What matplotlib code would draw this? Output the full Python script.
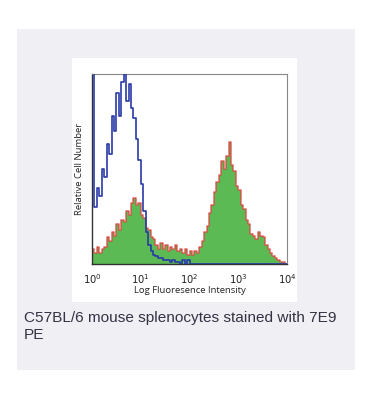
import numpy as np
import matplotlib
matplotlib.use("Agg")
import matplotlib.pyplot as plt
from matplotlib.patches import Rectangle

# histogram bins in log10 units (0.05 decade wide), counts scaled so top of axis = 100
bin_width = 0.05
bin_starts = np.arange(0, 4, bin_width)

# isotype / unstained control (blue)
control_counts = [140, 30, 40, 36, 50, 46, 63, 58, 78, 70,
                  90, 78, 96, 100, 86, 95, 82, 77, 66, 55,
                  42, 28, 17, 10, 7, 5, 4, 3, 3, 2,
                  2, 2, 1, 2, 1, 1, 0, 2, 0, 2,
                  0, 0, 0, 0, 0, 0, 0, 0, 0, 0,
                  0, 0, 0, 0, 0, 0, 0, 0, 0, 0,
                  0, 0, 0, 0, 0, 0, 0, 0, 0, 0,
                  0, 0, 0, 0, 0, 0, 0, 0, 0, 0]

# 7E9 PE stained (green fill, red outline)
stained_counts = [8, 6, 9, 6, 8, 9, 14, 12, 17, 15,
                  21, 18, 23, 22, 28, 26, 32, 35, 31, 32,
                  26, 24, 19, 18, 14, 13, 10, 8, 11, 8,
                  10, 7, 9, 8, 10, 7, 8, 6, 8, 5,
                  7, 5, 7, 6, 9, 12, 17, 20, 27, 31,
                  38, 43, 47, 54, 50, 57, 64, 52, 49, 41,
                  39, 31, 29, 23, 21, 16, 15, 13, 17, 15,
                  14, 10, 8, 6, 4, 3, 2, 1, 1, 0]

x_ticks = [0, 1, 2, 3, 4]
x_tick_labels = ['$10^{%d}$' % t for t in x_ticks]
caption = "C57BL/6 mouse splenocytes stained with 7E9\nPE"

fig = plt.figure(figsize=(3.69, 4.20), dpi=100)
fig.patch.set_facecolor('white')

# grey card and white plot area behind the axes
fig.patches.append(Rectangle((17 / 369, 1 - 370 / 420), 338 / 369, 341 / 420,
                             transform=fig.transFigure, facecolor='#f0eff4',
                             edgecolor='none', zorder=-2))
fig.patches.append(Rectangle((72 / 369, 1 - 302 / 420), 225 / 369, 244 / 420,
                             transform=fig.transFigure, facecolor='white',
                             edgecolor='none', zorder=-1))

ax = fig.add_axes([92 / 369, 1 - 264 / 420, 195 / 369, 190 / 420])
ax.set_zorder(2)
ax.set_facecolor('white')

edges = np.append(bin_starts, 4.0)
stained_step = np.append(stained_counts, stained_counts[-1])
control_step = np.append(control_counts, control_counts[-1])

ax.fill_between(edges, stained_step, step='post', color='#5cba55', linewidth=0, zorder=1)
ax.step(edges, stained_step, where='post', color='#e04040', linewidth=1.1, alpha=0.8, zorder=2)
ax.step(edges, control_step, where='post', color='#2a3aa8', linewidth=1.2, zorder=3)

ax.set_xlim(0, 4)
ax.set_ylim(0, 100)
ax.set_xticks(x_ticks)
ax.set_xticklabels(x_tick_labels, fontsize=7.2, family='DejaVu Sans', color='#222222')
ax.set_yticks([])
ax.tick_params(axis='x', length=0, pad=6)

for side in ['top', 'right']:
    ax.spines[side].set_color('#888888')
    ax.spines[side].set_linewidth(0.8)
for side in ['left', 'bottom']:
    ax.spines[side].set_color('#333333')
    ax.spines[side].set_linewidth(1.0)

ax.set_xlabel('Log Fluoresence Intensity', fontsize=6.8, family='Open Sans',
              color='#222222', labelpad=0)
ax.set_ylabel('Relative Cell Number', fontsize=6.8, family='Open Sans',
              color='#222222', labelpad=6)

fig.text(24 / 369, 1 - 311 / 420, caption, fontsize=11.1, family='Liberation Sans',
         color='#333344', va='top', ha='left', linespacing=1.3)

fig.savefig('out.png', dpi=100, facecolor='white')
